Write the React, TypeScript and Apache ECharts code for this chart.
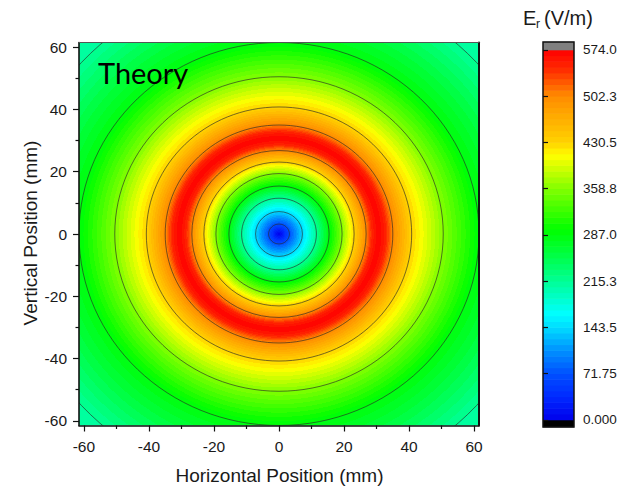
import React, { useEffect, useRef } from "react";
import * as echarts from "echarts";

// Radial profile of E_r along the radius from the centre (mm, V/m)
const radiusMm = [0, 3.2, 7.2, 11.5, 15.4, 19.4, 23.1, 26.8, 28.6, 30.6, 32.7, 35.0, 40.8, 50.5, 61.5, 82.0, 87.5];
const fieldVm = [0, 71.75, 143.5, 215.25, 287.0, 358.75, 430.5, 502.25, 550, 574, 552, 502.25, 430.5, 358.75, 287.0, 215.25, 205];

// Contour levels, which are also the colour-bar ticks
const levels = [0, 71.75, 143.5, 215.25, 287.0, 358.75, 430.5, 502.25, 574.0];
const levelLabels = ["0.000", "71.75", "143.5", "215.3", "287.0", "358.8", "430.5", "502.3", "574.0"];

// Axis ticks (mm)
const axisTicks = [-60, -40, -20, 0, 20, 40, 60];
const axisMinorTicks = [-50, -30, -10, 10, 30, 50];

// Rainbow colour map
const paletteValues = [0, 35, 71.75, 110, 143.5, 165, 190, 215.25, 260, 295, 358.75, 410, 430.5, 502.25, 545, 574];
const paletteColors = ["#0000eb", "#0028ff", "#0050ff", "#0096ff", "#00dcff", "#00ffff", "#00ffc8", "#00ff96", "#00ff3c", "#00ff00", "#82ff00", "#ffff00", "#ffd200", "#ff8c00", "#ff2800", "#ff0000"];

const VMAX = 574;
const BANDS = 64;
const bandW = VMAX / BANDS;

const GRID = { left: 79, top: 42.5, width: 400, height: 383 };
const CB = { left: 543, top: 42, width: 31, height: 385 };
const XMIN = -61.5, XMAX = 61.5, YMIN = -61.5, YMAX = 61.5;
const CB_MIN = -10.9, CB_MAX = 586.4;

const FONT = "Liberation Sans";
const INK = "#1a1a1a";

function hexToRgb(h: string) {
  return [parseInt(h.slice(1, 3), 16), parseInt(h.slice(3, 5), 16), parseInt(h.slice(5, 7), 16)];
}

function colorAt(v: number) {
  if (v <= paletteValues[0]) return paletteColors[0];
  for (let i = 0; i < paletteValues.length - 1; i++) {
    const a = paletteValues[i], b = paletteValues[i + 1];
    if (v <= b) {
      const t = (v - a) / (b - a);
      const ca = hexToRgb(paletteColors[i]), cb = hexToRgb(paletteColors[i + 1]);
      const c = ca.map((x, j) => Math.round(x + (cb[j] - x) * t));
      return `rgb(${c[0]},${c[1]},${c[2]})`;
    }
  }
  return paletteColors[paletteColors.length - 1];
}

const bandColor = (k: number) => colorAt((k + 0.5) * bandW);

// Stepped radial colour stops following the profile
function fieldStops(R: number) {
  const stops: { offset: number; color: string }[] = [];
  let band = Math.min(BANDS - 1, Math.floor(fieldVm[0] / bandW + 1e-9));
  stops.push({ offset: 0, color: bandColor(band) });
  for (let i = 0; i < radiusMm.length - 1; i++) {
    const r0 = radiusMm[i], r1 = radiusMm[i + 1], v0 = fieldVm[i], v1 = fieldVm[i + 1];
    if (v1 === v0) continue;
    const up = v1 > v0;
    const ks: number[] = [];
    for (let k = 1; k < BANDS; k++) {
      const b = k * bandW;
      const inside = up ? b > v0 + 1e-9 && b <= v1 + 1e-9 : b < v0 - 1e-9 && b >= v1 - 1e-9;
      if (inside) ks.push(k);
    }
    if (!up) ks.reverse();
    for (const k of ks) {
      const b = k * bandW;
      const r = r0 + ((b - v0) / (v1 - v0)) * (r1 - r0);
      const nb = up ? k : k - 1;
      stops.push({ offset: r / R, color: bandColor(band) });
      stops.push({ offset: r / R, color: bandColor(nb) });
      band = nb;
    }
  }
  stops.push({ offset: 1, color: bandColor(band) });
  return stops;
}

// Radii where the profile crosses each contour level
function contourRadii() {
  const out: number[] = [];
  for (const L of levels.slice(1, -1)) {
    for (let i = 0; i < radiusMm.length - 1; i++) {
      const va = fieldVm[i], vb = fieldVm[i + 1];
      if ((va < L && vb >= L) || (va > L && vb <= L)) {
        out.push(radiusMm[i] + ((L - va) / (vb - va)) * (radiusMm[i + 1] - radiusMm[i]));
      }
    }
  }
  return out;
}

function buildOption(): any {
  const R = radiusMm[radiusMm.length - 1];
  const stops = fieldStops(R);
  const rings = contourRadii();

  const bandData: number[][] = [[CB_MIN, 0, -1]];
  for (let k = 0; k < BANDS; k++) bandData.push([k * bandW, (k + 1) * bandW, k]);
  bandData.push([VMAX, CB_MAX, BANDS]);

  const tickText = { fontFamily: FONT, fontSize: 15.5, color: INK };
  const baseX = { gridIndex: 0, type: "value", min: XMIN, max: XMAX, splitLine: { show: false }, z: 10 };
  const baseY = { gridIndex: 0, type: "value", min: YMIN, max: YMAX, splitLine: { show: false }, z: 10 };

  return {
    animation: false,
    backgroundColor: "#ffffff",
    grid: [
      { left: GRID.left, top: GRID.top, width: GRID.width, height: GRID.height },
      { left: CB.left, top: CB.top, width: CB.width, height: CB.height },
    ],
    xAxis: [
      {
        ...baseX,
        position: "bottom",
        axisLine: { onZero: false, lineStyle: { color: "#111", width: 1.6 } },
        axisTick: { customValues: axisTicks, length: 6, lineStyle: { color: "#111", width: 1.2 } },
        axisLabel: { customValues: axisTicks, margin: 13, ...tickText },
      },
      {
        ...baseX,
        position: "bottom",
        axisLine: { show: false, onZero: false },
        axisTick: { customValues: axisMinorTicks, length: 3.5, lineStyle: { color: "#111", width: 1.2 } },
        axisLabel: { show: false },
      },
      {
        ...baseX,
        position: "top",
        axisLine: { onZero: false, lineStyle: { color: "#555", width: 1 } },
        axisTick: { show: false },
        axisLabel: { show: false },
      },
      { gridIndex: 1, type: "value", min: 0, max: 1, show: false },
    ],
    yAxis: [
      {
        ...baseY,
        position: "left",
        axisLine: { onZero: false, lineStyle: { color: "#111", width: 1.6 } },
        axisTick: { customValues: axisTicks, length: 6, lineStyle: { color: "#111", width: 1.2 } },
        axisLabel: { customValues: axisTicks, margin: 12, ...tickText },
      },
      {
        ...baseY,
        position: "left",
        axisLine: { show: false, onZero: false },
        axisTick: { customValues: axisMinorTicks, length: 3.5, lineStyle: { color: "#111", width: 1.2 } },
        axisLabel: { show: false },
      },
      {
        ...baseY,
        position: "right",
        axisLine: { onZero: false, lineStyle: { color: "#111", width: 2 } },
        axisTick: { show: false },
        axisLabel: { show: false },
      },
      {
        gridIndex: 1,
        type: "value",
        min: CB_MIN,
        max: CB_MAX,
        position: "right",
        splitLine: { show: false },
        axisLine: { show: false },
        axisTick: { customValues: levels, length: 5, lineStyle: { color: "#111", width: 1.2 } },
        axisLabel: {
          customValues: levels,
          margin: 9,
          fontFamily: FONT,
          fontSize: 13.5,
          color: INK,
          formatter: (v: number) => {
            let best = 0;
            levels.forEach((L, i) => {
              if (Math.abs(L - v) < Math.abs(levels[best] - v)) best = i;
            });
            return levelLabels[best];
          },
        },
        z: 10,
      },
    ],
    series: [
      {
        type: "custom",
        coordinateSystem: "cartesian2d",
        xAxisIndex: 0,
        yAxisIndex: 0,
        clip: true,
        silent: true,
        z: 1,
        data: [[0, 0]],
        renderItem: (params: any, api: any) => {
          const c = api.coord([api.value(0), api.value(1)]);
          const s = api.size([1, 1]);
          const children: any[] = [
            {
              type: "ellipse",
              shape: { cx: c[0], cy: c[1], rx: R * s[0], ry: R * s[1] },
              style: { fill: { type: "radial", x: 0.5, y: 0.5, r: 0.5, colorStops: stops } },
            },
          ];
          rings.forEach((r) => {
            children.push({
              type: "ellipse",
              shape: { cx: c[0], cy: c[1], rx: r * s[0], ry: r * s[1] },
              style: { fill: "none", stroke: "rgba(40,40,40,0.8)", lineWidth: 0.8 },
            });
          });
          return { type: "group", children };
        },
      },
      {
        type: "custom",
        coordinateSystem: "cartesian2d",
        xAxisIndex: 3,
        yAxisIndex: 3,
        silent: true,
        z: 1,
        data: bandData,
        renderItem: (params: any, api: any) => {
          const lo = api.value(0), hi = api.value(1), k = api.value(2);
          const p0 = api.coord([0, lo]);
          const p1 = api.coord([1, hi]);
          const fill = k < 0 ? "#000000" : k >= BANDS ? "#808080" : bandColor(k);
          return {
            type: "rect",
            shape: { x: p0[0], y: p1[1] - 0.3, width: p1[0] - p0[0], height: p0[1] - p1[1] + 0.6 },
            style: { fill },
          };
        },
      },
    ],
    graphic: [
      {
        type: "rect",
        z: 20,
        shape: { x: CB.left, y: CB.top, width: CB.width, height: CB.height },
        style: { fill: "none", stroke: "#111", lineWidth: 1.5 },
      },
      {
        type: "text",
        z: 20,
        x: 98,
        y: 72,
        style: { text: "Theory", fontFamily: "Lato", fontSize: 29, fill: "#000", align: "left", verticalAlign: "middle" },
      },
      {
        type: "text",
        z: 20,
        x: 279.5,
        y: 475,
        style: { text: "Horizontal Position (mm)", fontFamily: FONT, fontSize: 19, fill: INK, align: "center", verticalAlign: "middle" },
      },
      {
        type: "text",
        z: 20,
        x: 30,
        y: 233,
        rotation: Math.PI / 2,
        style: { text: "Vertical Position (mm)", fontFamily: FONT, fontSize: 19, fill: INK, align: "center", verticalAlign: "middle" },
      },
      {
        type: "text",
        z: 20,
        x: 523,
        y: 18,
        style: { text: "E", fontFamily: FONT, fontSize: 20, fill: INK, align: "left", verticalAlign: "middle" },
      },
      {
        type: "text",
        z: 20,
        x: 536,
        y: 24,
        style: { text: "r", fontFamily: FONT, fontSize: 12, fill: INK, align: "left", verticalAlign: "middle" },
      },
      {
        type: "text",
        z: 20,
        x: 544,
        y: 18,
        style: { text: "(V/m)", fontFamily: FONT, fontSize: 20, fill: INK, align: "left", verticalAlign: "middle" },
      },
    ],
  };
}

export default function App() {
  const ref = useRef<HTMLDivElement>(null);
  useEffect(() => {
    if (!ref.current) return;
    const chart = echarts.init(ref.current, null, { renderer: "svg" });
    chart.setOption(buildOption());
    return () => chart.dispose();
  }, []);
  return (
    <div
      ref={ref}
      style={{ position: "fixed", left: 0, top: 0, width: 621, height: 488, background: "#ffffff" }}
    />
  );
}
